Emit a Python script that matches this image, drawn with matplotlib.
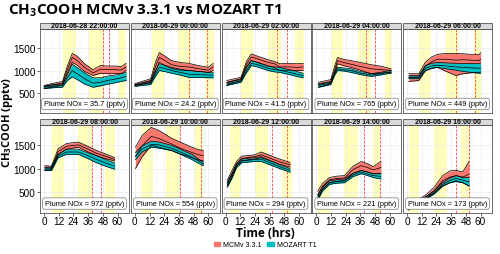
import matplotlib
matplotlib.use('Agg')
import matplotlib.pyplot as plt
from matplotlib.patches import Rectangle, Patch

plt.rcParams['font.family'] = ['Open Sans', 'DejaVu Sans']
plt.rcParams['mathtext.fontset'] = 'custom'
plt.rcParams['mathtext.rm'] = 'Open Sans'
plt.rcParams['mathtext.bf'] = 'Open Sans:bold'
small = ['Liberation Sans', 'DejaVu Sans']

# ---- data ----
panel_titles = ['2018-06-28 22:00:00', '2018-06-29 00:00:00', '2018-06-29 02:00:00',
                '2018-06-29 04:00:00', '2018-06-29 06:00:00', '2018-06-29 08:00:00',
                '2018-06-29 10:00:00', '2018-06-29 12:00:00', '2018-06-29 14:00:00',
                '2018-06-29 16:00:00']
nox = ['35.7', '24.2', '41.5', '765', '449', '972', '554', '294', '221', '173']

hours = [
    [0, 8, 15, 19, 23, 27, 33, 40, 46, 52, 58, 63, 67],
    [0, 6, 13, 17, 20, 24, 30, 37, 44, 52, 60, 64],
    [1, 6, 12.6, 17, 21, 26, 34.6, 40, 44, 52, 58, 63.4],
    [1.6, 7, 11.8, 15, 17.3, 22, 28.3, 36, 44.7, 52, 58, 61],
    [1.4, 6, 9.6, 15, 20, 24.7, 32, 39.8, 46, 52, 59, 60],
    [0.5, 6, 9, 11.5, 18.4, 28, 35, 43, 50, 57.6],
    [0.5, 6, 13.4, 20, 30, 38, 46.5, 52, 56],
    [1.4, 5, 9, 13, 20, 24, 29, 36, 44, 52.6],
    [1.1, 5, 10.7, 17, 23, 30, 36.7, 42, 46.3, 52.7],
    [1, 8, 15.2, 22, 29, 35, 40, 45.5, 50.5],
]
mcm_hi = [
    [670, 720, 760, 1100, 1380, 1320, 1150, 1020, 1110, 1100, 1100, 1090, 1160],
    [710, 760, 820, 1200, 1400, 1330, 1220, 1180, 1160, 1110, 1070, 1160],
    [780, 810, 850, 1200, 1370, 1320, 1240, 1200, 1150, 1160, 1150, 1160],
    [740, 770, 800, 1100, 1290, 1250, 1220, 1180, 1130, 1100, 1060, 1040],
    [930, 930, 930, 1190, 1300, 1360, 1380, 1380, 1370, 1360, 1360, 1400],
    [1060, 1050, 1250, 1420, 1530, 1560, 1480, 1380, 1310, 1230],
    [1450, 1700, 1870, 1800, 1640, 1550, 1450, 1400, 1380],
    [750, 950, 1150, 1260, 1280, 1290, 1350, 1280, 1200, 1130],
    [520, 680, 810, 840, 850, 1050, 1150, 1100, 1040, 1150],
    [220, 330, 440, 600, 850, 950, 960, 930, 1150],
]
mcm_mid = [
    [640, 690, 720, 1030, 1290, 1220, 1070, 950, 1030, 1020, 1020, 1010, 1080],
    [690, 730, 780, 1100, 1290, 1230, 1130, 1090, 1080, 1040, 1010, 1080],
    [720, 770, 820, 1140, 1300, 1260, 1180, 1150, 1080, 1080, 1070, 1080],
    [690, 720, 760, 1020, 1220, 1180, 1140, 1090, 1040, 1020, 1010, 1000],
    [850, 850, 855, 1100, 1190, 1250, 1250, 1230, 1240, 1230, 1220, 1250],
    [1015, 1010, 1200, 1360, 1470, 1500, 1420, 1320, 1260, 1190],
    [1250, 1480, 1680, 1630, 1520, 1420, 1340, 1290, 1270],
    [690, 880, 1100, 1210, 1240, 1250, 1290, 1220, 1140, 1080],
    [430, 620, 760, 790, 800, 980, 1060, 1020, 970, 1020],
    [170, 290, 400, 530, 740, 820, 850, 820, 880],
]
mcm_lo = [
    [600, 640, 670, 950, 1180, 1120, 980, 890, 940, 930, 930, 930, 1000],
    [670, 700, 740, 1000, 1180, 1120, 1040, 1010, 1000, 980, 960, 1000],
    [670, 720, 780, 1080, 1220, 1180, 1110, 1060, 1000, 1010, 1000, 1000],
    [630, 670, 710, 950, 1150, 1110, 1070, 1010, 930, 940, 960, 960],
    [760, 770, 780, 1000, 1050, 1070, 980, 890, 930, 950, 960, 970],
    [970, 970, 1150, 1300, 1410, 1450, 1360, 1270, 1210, 1160],
    [1000, 1250, 1490, 1450, 1380, 1300, 1230, 1180, 1160],
    [630, 800, 1050, 1160, 1190, 1200, 1230, 1170, 1090, 1030],
    [330, 560, 700, 730, 740, 900, 960, 930, 890, 890],
    [120, 250, 370, 470, 630, 700, 740, 700, 630],
]
moz_hi = [
    [660, 690, 700, 900, 1140, 1070, 950, 840, 840, 880, 900, 930, 960],
    [680, 720, 760, 1000, 1150, 1120, 1070, 1030, 1000, 980, 960, 960],
    [740, 770, 800, 1050, 1220, 1180, 1090, 1080, 1070, 1020, 980, 940],
    [710, 730, 745, 950, 1075, 1060, 1040, 980, 930, 960, 990, 1000],
    [890, 890, 890, 1110, 1160, 1180, 1170, 1160, 1160, 1160, 1160, 1170],
    [1030, 1030, 1180, 1300, 1410, 1410, 1340, 1270, 1190, 1120],
    [1340, 1480, 1580, 1560, 1490, 1400, 1300, 1200, 1130],
    [700, 880, 1100, 1200, 1220, 1230, 1250, 1170, 1080, 1000],
    [440, 600, 740, 765, 780, 900, 960, 920, 890, 890],
    [200, 300, 405, 520, 700, 800, 850, 810, 815],
]
moz_mid = [
    [630, 660, 670, 840, 1000, 930, 820, 720, 740, 780, 810, 840, 870],
    [665, 695, 725, 940, 1070, 1050, 1000, 960, 920, 910, 900, 900],
    [700, 735, 770, 1000, 1160, 1130, 1050, 1020, 1010, 960, 920, 890],
    [670, 695, 715, 925, 1040, 1020, 1000, 945, 900, 930, 960, 970],
    [855, 855, 855, 1050, 1100, 1120, 1100, 1080, 1070, 1060, 1050, 1055],
    [990, 990, 1140, 1265, 1350, 1350, 1280, 1190, 1120, 1050],
    [1260, 1410, 1510, 1500, 1430, 1340, 1240, 1160, 1095],
    [650, 830, 1060, 1160, 1180, 1190, 1200, 1125, 1040, 960],
    [390, 560, 700, 730, 740, 865, 925, 885, 850, 835],
    [170, 275, 378, 490, 665, 750, 790, 755, 720],
]
moz_lo = [
    [600, 620, 630, 780, 860, 800, 700, 630, 660, 700, 730, 760, 780],
    [650, 670, 690, 880, 1000, 980, 940, 900, 850, 850, 840, 840],
    [670, 700, 740, 950, 1110, 1080, 1000, 970, 960, 910, 870, 840],
    [630, 660, 690, 900, 1000, 990, 960, 910, 870, 900, 930, 940],
    [820, 820, 820, 1000, 1050, 1070, 1040, 1010, 980, 960, 940, 940],
    [955, 955, 1100, 1230, 1300, 1300, 1220, 1120, 1050, 985],
    [1190, 1350, 1450, 1430, 1380, 1290, 1190, 1110, 1060],
    [600, 780, 1020, 1120, 1140, 1150, 1150, 1080, 1000, 920],
    [330, 520, 665, 690, 700, 830, 890, 850, 810, 780],
    [140, 250, 350, 460, 630, 700, 725, 700, 630],
]
# night bands (hrs since start)
night = [
    [(15.6, 26.3), (37, 47.7), (60.3, 66.9)],
    [(14.3, 24.4), (35.4, 45.8), (57.3, 65)],
    [(12.6, 22.2), (34.6, 45), (57, 64)],
    [(13.2, 21.4), (33.7, 44.7), (55.7, 61.7)],
    [(9.6, 19.2), (31.5, 42.5), (54.3, 60.3)],
    [(6.6, 16.5), (28, 39), (50, 57.6)],
    [(5.2, 14.8), (25.8, 36.8), (49, 56)],
    [(3.3, 12.9), (23.9, 34.8), (45.8, 54)],
    [(1.1, 11.3), (23, 34), (46.3, 51.8)],
    [(1.6, 9.9), (21.6, 32.3), (44.4, 50.7)],
]
vlines = [(47.7, 52.7), (44.2, 58.7), (42.3, 50.2), (40.6, 48), (39.8, 55.4),
          (39.5, 46.6), (36.8, 54), (37.6, 50), (39, 51.8), (40, 50.5)]

col_mcm = '#F8766D'
col_moz = '#00BFC4'

fig = plt.figure(figsize=(5.0, 2.55), dpi=100)

W, H = 500.0, 255.0
pw = 89
row_top = [30, 126]
row_bot = [114, 214]
strip_px = 6

for i in range(10):
    r, c = divmod(i, 5)
    left = 40 + 90.75 * c
    ax = fig.add_axes([left / W, 1 - row_bot[r] / H, pw / W, (row_bot[r] - row_top[r]) / H])
    ax.set_xlim(-3.3, 69.3)
    ax.set_ylim(60, 1920)
    ax.set_xticks([0, 12, 24, 36, 48, 60])
    ax.set_xticks([6, 18, 30, 42, 54, 66], minor=True)
    ax.set_yticks([500, 1000, 1500])
    ax.set_yticks([250, 750, 1250, 1750], minor=True)
    ax.grid(which='major', color='#EBEBEB', lw=0.5)
    ax.grid(which='minor', color='#F4F4F4', lw=0.3)
    ax.set_axisbelow(True)
    for s in ax.spines.values():
        s.set_color('#555555')
        s.set_linewidth(0.6)
    ax.tick_params(which='minor', length=0)
    ax.tick_params(which='major', length=2, width=0.5, color='#333333', pad=1,
                   labelsize=7.2)
    ax.tick_params(axis='x', pad=0.5)
    for lab in ax.get_xticklabels() + ax.get_yticklabels():
        lab.set_family(small)
    if c != 0:
        ax.tick_params(axis='y', labelleft=False, length=0)
    if r == 0:
        ax.tick_params(axis='x', labelbottom=False, length=0)

    for a, b in night[i]:
        ax.axvspan(a, b, color='#FFFFB8', lw=0, zorder=0.5)
    for v in vlines[i]:
        ax.axvline(v, color='#FF5555', lw=0.7, ls=(0, (2.5, 1.5)), zorder=1)

    t = hours[i]
    ax.fill_between(t, mcm_lo[i], mcm_hi[i], color=col_mcm, lw=0, zorder=2)
    ax.fill_between(t, moz_lo[i], moz_hi[i], color=col_moz, lw=0, zorder=2)
    for ser in (mcm_lo, mcm_mid, mcm_hi, moz_lo, moz_mid, moz_hi):
        ax.plot(t, ser[i], color='black', lw=0.5, zorder=3)

    ax.text(33, 260, 'Plume NOx = %s (pptv)' % nox[i], ha='center', va='center',
            fontsize=5.3, family=small, zorder=5,
            bbox=dict(boxstyle='round,pad=0.3,rounding_size=0.3', fc='white',
                      ec='#777777', lw=0.5))

    sh = strip_px / (row_bot[r] - row_top[r])
    ax.add_patch(Rectangle((0, 1), 1, sh, transform=ax.transAxes, clip_on=False,
                           fc='#D9D9D9', ec='#555555', lw=0.6))
    ax.text(0.5, 1 + sh / 2, panel_titles[i], transform=ax.transAxes, ha='center',
            va='center', fontsize=5.0, fontweight='bold', family=small)

fig.text(8 / W, 1 - 11 / H, r'CH$_\mathbf{3}$COOH MCMv 3.3.1 vs MOZART T1',
         fontsize=11, fontweight='bold', ha='left', va='center')
fig.text(8 / W, 1 - 122 / H, r'CH$_\mathbf{3}$COOH (pptv)', rotation=90,
         fontsize=8, fontweight='bold', ha='center', va='center')
fig.text(265 / W, 1 - 227 / H, 'Time (hrs)', fontsize=8.5, fontweight='bold',
         ha='center', va='top')

handles = [Patch(color=col_mcm, label='MCMv 3.3.1'), Patch(color=col_moz, label='MOZART T1')]
leg = fig.legend(handles=handles, loc='center', bbox_to_anchor=(265 / W, 1 - 246 / H),
                 ncol=2, frameon=False, fontsize=5, handlelength=1.0, handleheight=0.5,
                 columnspacing=0.8, handletextpad=0.4)
for txt in leg.get_texts():
    txt.set_family(small)

fig.savefig('out.png', dpi=100)
